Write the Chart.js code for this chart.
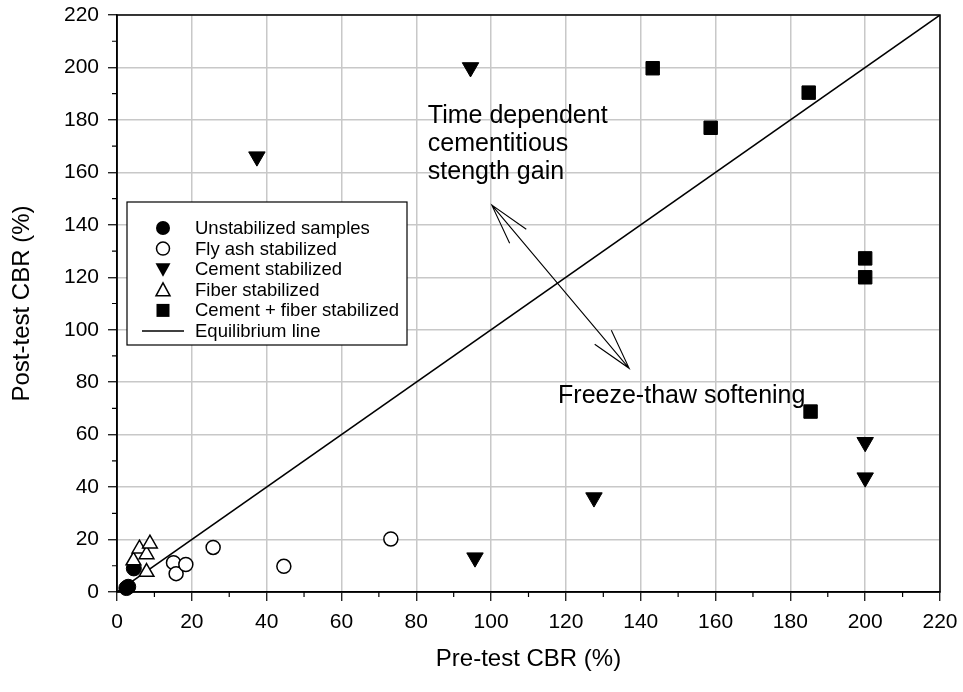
<!DOCTYPE html>
<html>
<head>
<meta charset="utf-8">
<script src="https://cdn.jsdelivr.net/npm/chart.js@4"></script>
<style>
  html, body { margin: 0; background: #fff; }
</style>
</head>
<body>
<canvas id="chart" width="963" height="692"></canvas>
<script>
// values
const unstabX = [2.5, 3.0, 4.5];
const unstabY = [1.5, 2.0, 9.0];
const flyAshX = [15.1, 15.8, 18.4, 25.7, 44.6, 73.2];
const flyAshY = [11.2, 7.0, 10.5, 17.0, 9.8, 20.2];
const cementX = [37.4, 94.5, 95.7, 127.5, 200, 200];
const cementY = [166.0, 200.0, 13.1, 36.0, 57.1, 43.6];
const fiberX = [4.4, 6.0, 7.9, 8.8, 7.9];
const fiberY = [12.0, 16.5, 14.3, 18.4, 7.6];
const cfX = [143.2, 158.7, 184.9, 200, 200, 185.4];
const cfY = [199.7, 177.0, 190.4, 127.2, 120.0, 68.8];
const equilX = [0, 220];
const equilY = [0, 220];

const xTicks = [0, 20, 40, 60, 80, 100, 120, 140, 160, 180, 200, 220];
const yTicks = [0, 20, 40, 60, 80, 100, 120, 140, 160, 180, 200, 220];

const FONT = '"Liberation Sans", Arial, Helvetica, sans-serif';
const toPts = (xs, ys) => xs.map((x, i) => ({ x: x, y: ys[i] }));

const legendItems = [
  { label: 'Unstabilized samples', kind: 'dot' },
  { label: 'Fly ash stabilized', kind: 'ring' },
  { label: 'Cement stabilized', kind: 'down' },
  { label: 'Fiber stabilized', kind: 'up' },
  { label: 'Cement + fiber stabilized', kind: 'square' },
  { label: 'Equilibrium line', kind: 'line' }
];

function drawSymbol(ctx, kind, x, y) {
  ctx.save();
  ctx.strokeStyle = '#000';
  ctx.fillStyle = '#000';
  ctx.lineWidth = 1.5;
  ctx.beginPath();
  if (kind === 'dot') {
    ctx.arc(x, y, 7, 0, Math.PI * 2);
    ctx.fill();
  } else if (kind === 'ring') {
    ctx.arc(x, y, 6.5, 0, Math.PI * 2);
    ctx.fillStyle = '#fff';
    ctx.fill();
    ctx.stroke();
  } else if (kind === 'down') {
    ctx.moveTo(x - 7.5, y - 6);
    ctx.lineTo(x + 7.5, y - 6);
    ctx.lineTo(x, y + 7.5);
    ctx.closePath();
    ctx.fill();
  } else if (kind === 'up') {
    ctx.moveTo(x - 7, y + 6);
    ctx.lineTo(x + 7, y + 6);
    ctx.lineTo(x, y - 7);
    ctx.closePath();
    ctx.stroke();
  } else if (kind === 'square') {
    ctx.rect(x - 6.5, y - 6.5, 13, 13);
    ctx.fill();
  } else if (kind === 'line') {
    ctx.lineWidth = 1.3;
    ctx.moveTo(x - 21, y);
    ctx.lineTo(x + 21, y);
    ctx.stroke();
  }
  ctx.restore();
}

function arrowHead(ctx, tx, ty, fx, fy) {
  const a = Math.atan2(fy - ty, fx - tx);
  const len = 42;
  const spread = 15 * Math.PI / 180;
  ctx.moveTo(tx + len * Math.cos(a - spread), ty + len * Math.sin(a - spread));
  ctx.lineTo(tx, ty);
  ctx.lineTo(tx + len * Math.cos(a + spread), ty + len * Math.sin(a + spread));
}

const extras = {
  id: 'extras',
  afterDatasetsDraw(chart) {
    const ctx = chart.ctx;
    const xs = chart.scales.x, ys = chart.scales.y;
    const area = chart.chartArea;
    ctx.save();

    // frame
    ctx.strokeStyle = '#000';
    ctx.lineWidth = 1.5;
    ctx.strokeRect(area.left, area.top, area.right - area.left, area.bottom - area.top);

    // minor ticks
    ctx.lineWidth = 1.2;
    ctx.beginPath();
    for (let v = 10; v < 220; v += 20) {
      const px = xs.getPixelForValue(v);
      ctx.moveTo(px, area.bottom);
      ctx.lineTo(px, area.bottom + 5);
      const py = ys.getPixelForValue(v);
      ctx.moveTo(area.left, py);
      ctx.lineTo(area.left - 5, py);
    }
    ctx.stroke();

    // double arrow
    const x1 = xs.getPixelForValue(100.2), y1 = ys.getPixelForValue(147.5);
    const x2 = xs.getPixelForValue(136.9), y2 = ys.getPixelForValue(85.3);
    ctx.lineWidth = 1.1;
    ctx.beginPath();
    ctx.moveTo(x1, y1);
    ctx.lineTo(x2, y2);
    arrowHead(ctx, x1, y1, x2, y2);
    arrowHead(ctx, x2, y2, x1, y1);
    ctx.stroke();

    // annotation text
    ctx.fillStyle = '#000';
    ctx.font = '25px ' + FONT;
    ctx.textBaseline = 'middle';
    ctx.textAlign = 'left';
    const tx = xs.getPixelForValue(83.1), ty = ys.getPixelForValue(181.5);
    ['Time dependent', 'cementitious', 'stength gain'].forEach((s, i) => {
      ctx.fillText(s, tx, ty + i * 28);
    });
    ctx.fillText('Freeze-thaw softening', xs.getPixelForValue(117.9), ys.getPixelForValue(74.5));

    // legend box
    const bx = area.left + 10, by = area.top + 187;
    ctx.fillStyle = '#fff';
    ctx.fillRect(bx, by, 280, 143);
    ctx.lineWidth = 1.2;
    ctx.strokeStyle = '#000';
    ctx.strokeRect(bx, by, 280, 143);
    ctx.font = '18.5px ' + FONT;
    ctx.fillStyle = '#000';
    legendItems.forEach((it, i) => {
      const ry = by + 26 + i * 20.6;
      drawSymbol(ctx, it.kind, bx + 36, ry);
      ctx.fillStyle = '#000';
      ctx.fillText(it.label, bx + 68, ry + 1);
    });
    ctx.restore();
  }
};

const axisBase = (titleText, ticksArr) => ({
  type: 'linear',
  min: 0,
  max: 220,
  afterBuildTicks: s => { s.ticks = ticksArr.map(v => ({ value: v })); },
  ticks: { color: '#000', font: { family: FONT, size: 21 }, padding: 9 },
  grid: { color: '#c8c8c8', lineWidth: 1.5, tickColor: '#000', tickLength: 9, tickWidth: 1.2 },
  border: { color: '#000', width: 1.5 },
  title: { display: true, text: titleText, color: '#000', font: { family: FONT, size: 24 } }
});

const xAxis = axisBase('Pre-test CBR (%)', xTicks);
xAxis.title.padding = { top: 4, bottom: 18 };
xAxis.afterFit = s => { s.height = 100; s.paddingLeft = 0; s.paddingRight = 0; };
const yAxis = axisBase('Post-test CBR (%)', yTicks);
yAxis.title.padding = { top: 8, bottom: 8 };
yAxis.afterFit = s => { s.width = 117; s.paddingTop = 0; s.paddingBottom = 0; };

new Chart(document.getElementById('chart'), {
  type: 'scatter',
  data: {
    datasets: [
      { label: 'Unstabilized samples', data: toPts(unstabX, unstabY), pointStyle: 'circle', pointRadius: 7.5,
        backgroundColor: '#000', borderColor: '#000', borderWidth: 1, clip: false, order: 1 },
      { label: 'Fly ash stabilized', data: toPts(flyAshX, flyAshY), pointStyle: 'circle', pointRadius: 7,
        backgroundColor: '#fff', borderColor: '#000', borderWidth: 1.5, clip: false },
      { label: 'Cement stabilized', data: toPts(cementX, cementY), pointStyle: 'triangle', rotation: 180,
        pointRadius: 9.5, backgroundColor: '#000', borderColor: '#000', borderWidth: 1, clip: false },
      { label: 'Fiber stabilized', data: toPts(fiberX, fiberY), pointStyle: 'triangle', pointRadius: 8.5,
        backgroundColor: '#fff', borderColor: '#000', borderWidth: 1.5, clip: false },
      { label: 'Cement + fiber stabilized', data: toPts(cfX, cfY), pointStyle: 'rect', pointRadius: 9.5,
        backgroundColor: '#000', borderColor: '#000', borderWidth: 1, clip: false },
      { label: 'Equilibrium line', type: 'line', data: toPts(equilX, equilY), showLine: true, pointRadius: 0,
        borderColor: '#000', borderWidth: 1.5, fill: false, order: 2 }
    ]
  },
  options: {
    responsive: false,
    animation: false,
    layout: { padding: { top: 15, right: 23, left: 0, bottom: 0 } },
    plugins: { legend: { display: false }, tooltip: { enabled: false } },
    scales: { x: xAxis, y: yAxis }
  },
  plugins: [extras]
});
</script>
</body>
</html>
